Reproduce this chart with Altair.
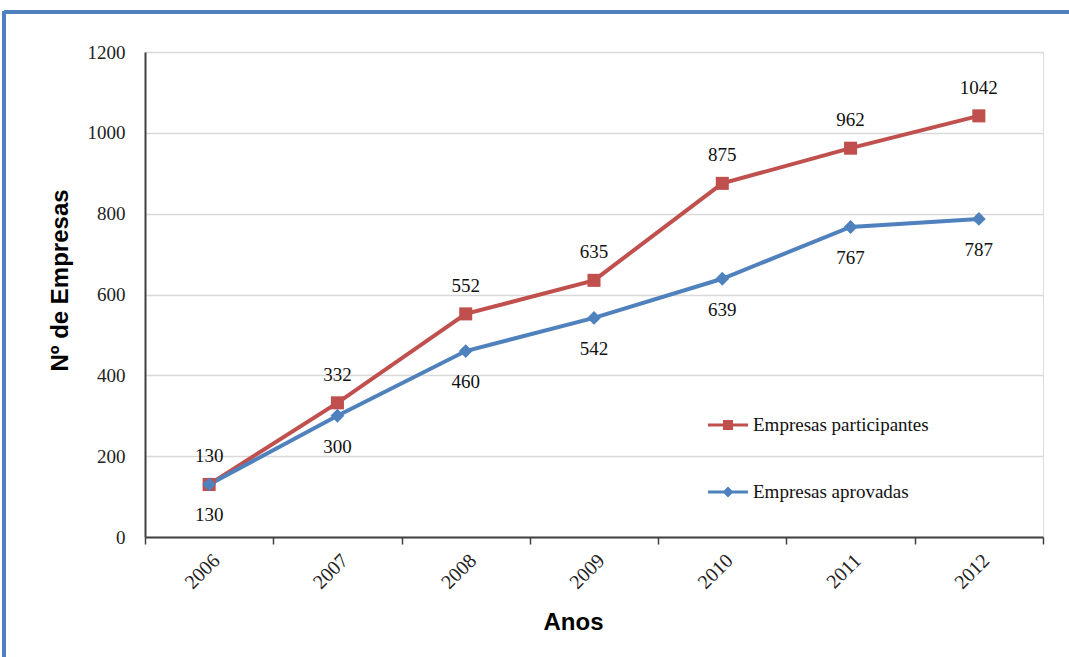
import altair as alt
import pandas as pd

anos = ["2006", "2007", "2008", "2009", "2010", "2011", "2012"]
participantes = [130, 332, 552, 635, 875, 962, 1042]
aprovadas = [130, 300, 460, 542, 639, 767, 787]
series = ["Empresas participantes", "Empresas aprovadas"]
cores = ["#c0504d", "#4f81bd"]

rows = []
for a, v in zip(anos, participantes):
    rows.append({"ano": a, "serie": series[0], "valor": v})
for a, v in zip(anos, aprovadas):
    rows.append({"ano": a, "serie": series[1], "valor": v})
df = pd.DataFrame(rows)

SERIF = "Liberation Serif"
SANS = "Liberation Sans"

x_enc = alt.X(
    "ano:O",
    scale=alt.Scale(type="band", paddingInner=0, paddingOuter=0),
    axis=alt.Axis(
        title="Anos", labelAngle=-45, tickBand="extent", tickSize=7,
        labelPadding=6, labelFont=SERIF, labelFontSize=20, labelColor="#222",
        titleFont=SANS, titleFontSize=24, titleFontWeight="bold", titleColor="#000",
        titleX=428, titleY=85, titleBaseline="middle", titleAlign="center",
        domainColor="#404040", tickColor="#404040", domainWidth=2, tickWidth=1.5,
        grid=False,
    ),
)
y_enc = alt.Y(
    "valor:Q",
    scale=alt.Scale(domain=[0, 1200], nice=False),
    axis=alt.Axis(
        title="Nº de Empresas", values=[0, 200, 400, 600, 800, 1000, 1200], format="d",
        tickSize=0, labelPadding=20, labelFont=SERIF, labelFontSize=19, labelColor="#222",
        titleFont=SANS, titleFontSize=24, titleFontWeight="bold", titleColor="#000",
        titleX=-85, titleY=228, titleBaseline="middle", titleAlign="center",
        domainColor="#404040", domainWidth=2, gridColor="#d9d9d9", gridWidth=1.5,
    ),
)

leg = alt.Legend(
    title=None, orient="none", legendX=563, legendY=353, padding=0,
    symbolSize=1600, symbolStrokeWidth=0, symbolOpacity=1,
    labelFont=SERIF, labelFontSize=19, labelColor="#111", labelOffset=5,
    rowPadding=37, labelLimit=400,
)

color_scale = alt.Scale(domain=series, range=cores)
color_enc = alt.Color("serie:N", scale=color_scale, legend=leg)

base = alt.Chart(df)

linhas = base.mark_line(strokeWidth=4).encode(x=x_enc, y=y_enc, color=color_enc)

quadrados = base.transform_filter(alt.datum.serie == series[0]).mark_point(
    shape="square", filled=True, size=170, opacity=1
).encode(x=x_enc, y=y_enc, color=color_enc)

losangos = base.transform_filter(alt.datum.serie == series[1]).mark_point(
    shape="diamond", filled=True, size=190, opacity=1
).encode(x=x_enc, y=y_enc, color=color_enc)

rot_part = base.transform_filter(alt.datum.serie == series[0]).mark_text(
    font=SERIF, fontSize=19, dy=-28, color="#111", baseline="middle"
).encode(x=x_enc, y=y_enc, text="valor:Q")

rot_apr = base.transform_filter(alt.datum.serie == series[1]).mark_text(
    font=SERIF, fontSize=19, dy=31, color="#111", baseline="middle"
).encode(x=x_enc, y=y_enc, text="valor:Q")

sq_path = ("M-1,-0.08L-0.25,-0.08L-0.25,-0.25L0.25,-0.25L0.25,-0.08L1,-0.08"
           "L1,0.08L0.25,0.08L0.25,0.25L-0.25,0.25L-0.25,0.08L-1,0.08Z")
di_path = ("M-1,-0.08L-0.2,-0.08L0,-0.28L0.2,-0.08L1,-0.08"
           "L1,0.08L0.2,0.08L0,0.28L-0.2,0.08L-1,0.08Z")

legenda = base.transform_filter("false").mark_point(filled=True, opacity=1).encode(
    x=x_enc, y=y_enc, color=color_enc,
    shape=alt.Shape("serie:N", scale=alt.Scale(domain=series, range=[sq_path, di_path]), legend=leg),
)

moldura_topo = alt.Chart(df).mark_rule(color="#4f81bd", strokeWidth=3).encode(
    x=alt.value(-141), x2=alt.value(930), y=alt.value(-40)
)
moldura_esq = alt.Chart(df).mark_rule(color="#4f81bd", strokeWidth=3).encode(
    x=alt.value(-141), y=alt.value(-41), y2=alt.value(610)
)

chart = alt.layer(
    linhas, quadrados, losangos, rot_part, rot_apr, legenda, moldura_topo, moldura_esq
).properties(
    width=898, height=485,
    autosize=alt.AutoSizeParams(type="none"),
    padding={"left": 145, "top": 52, "right": 26, "bottom": 120},
).configure_view(
    stroke="#404040", strokeWidth=2
).configure(background="white")

chart.save("out.html", embed_options={"renderer": "svg", "actions": False})
